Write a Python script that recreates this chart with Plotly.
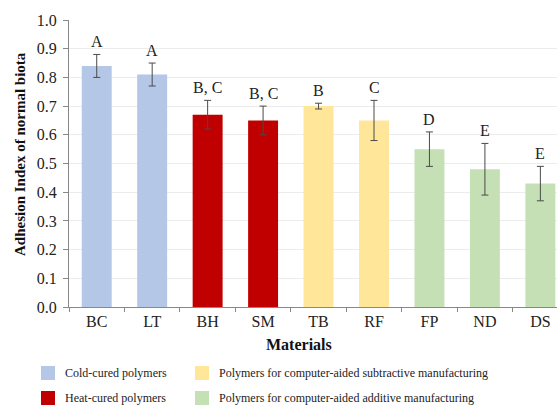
import plotly.graph_objects as go

# Materials, mean adhesion index, SD and significance letters
materials = ["BC", "LT", "BH", "SM", "TB", "RF", "FP", "ND", "DS"]
adhesion = [0.84, 0.81, 0.67, 0.65, 0.70, 0.65, 0.55, 0.48, 0.43]
sd = [0.04, 0.04, 0.05, 0.05, 0.01, 0.07, 0.06, 0.09, 0.06]
letters = ["A", "A", "B, C", "B, C", "B", "C", "D", "E", "E"]

# Polymer group for each material
groups = ["Cold-cured polymers", "Heat-cured polymers",
          "Polymers for computer-aided subtractive manufacturing",
          "Polymers for computer-aided additive manufacturing"]
group_of = [0, 0, 1, 1, 2, 2, 3, 3, 3]
group_colors = ["#B4C7E7", "#C00000", "#FFE699", "#C5E0B4"]

FONT = "Liberation Serif"
W, H = 557, 408
ML, MR, MT, MB = 69, 0, 20, 101

fig = go.Figure()
for g, name in enumerate(groups):
    idx = [i for i, k in enumerate(group_of) if k == g]
    fig.add_trace(go.Bar(
        x=[materials[i] for i in idx],
        y=[adhesion[i] for i in idx],
        name=name,
        marker=dict(color=group_colors[g], line=dict(width=0)),
        width=0.54,
        error_y=dict(type="data", array=[sd[i] for i in idx],
                     color="#4a4a4a", thickness=1, width=3.5),
        showlegend=False,
    ))

# Significance letters above the error bars
for m, v, e, t in zip(materials, adhesion, sd, letters):
    fig.add_annotation(x=m, y=v + e, text=t, showarrow=False,
                       xref="x", yref="y", yanchor="bottom", yshift=2,
                       font=dict(family=FONT, size=16, color="#222"))

# Pixel helpers for placing text and the legend block around the axes
pw, ph = W - ML - MR, H - MT - MB
def px(xp):
    return (xp - ML) / pw
def py(yp):
    return (H - MB - yp) / ph

legend_pos = [(41, 373), (41, 398), (195, 373), (195, 398)]
for (lx, ly), name, col in zip(legend_pos, groups, group_colors):
    fig.add_shape(type="rect", xref="paper", yref="paper",
                  x0=px(lx), x1=px(lx + 14), y0=py(ly + 7), y1=py(ly - 7),
                  fillcolor=col, line=dict(width=0))
    fig.add_annotation(xref="paper", yref="paper", x=px(lx + 22), y=py(ly),
                       xanchor="left", yanchor="middle", text=name,
                       showarrow=False,
                       font=dict(family=FONT, size=12, color="#222"))

fig.add_annotation(xref="paper", yref="paper", x=px(299), y=py(344),
                   xanchor="center", yanchor="middle", text="<b>Materials</b>",
                   showarrow=False, font=dict(family=FONT, size=16, color="#111"))

fig.add_annotation(xref="paper", yref="paper", x=px(20), y=py(154),
                   xanchor="center", yanchor="middle", textangle=-90,
                   text="<b>Adhesion Index of normal biota</b>",
                   showarrow=False, font=dict(family=FONT, size=15, color="#111"))

fig.update_layout(
    width=W, height=H,
    margin=dict(l=ML, r=MR, t=MT, b=MB),
    paper_bgcolor="white", plot_bgcolor="white",
    barmode="overlay",
    font=dict(family=FONT, size=14, color="#222"),
)
fig.update_xaxes(
    categoryorder="array", categoryarray=materials,
    range=[-0.5, 8.30], tickson="boundaries",
    ticks="outside", ticklen=4, tickcolor="#888",
    showline=True, linecolor="#888", linewidth=1,
    tickfont=dict(family=FONT, size=16, color="#222"),
    showgrid=False,
)
fig.update_yaxes(
    range=[0, 1.0], dtick=0.1, tickformat=".1f",
    ticks="outside", ticklen=5, tickcolor="#888",
    ticklabelstandoff=3,
    showline=True, linecolor="#888", linewidth=1,
    showgrid=True, gridcolor="#ECECEC", gridwidth=1,
    zeroline=False,
    tickfont=dict(family=FONT, size=16, color="#222"),
)

fig.write_html("out.html")
